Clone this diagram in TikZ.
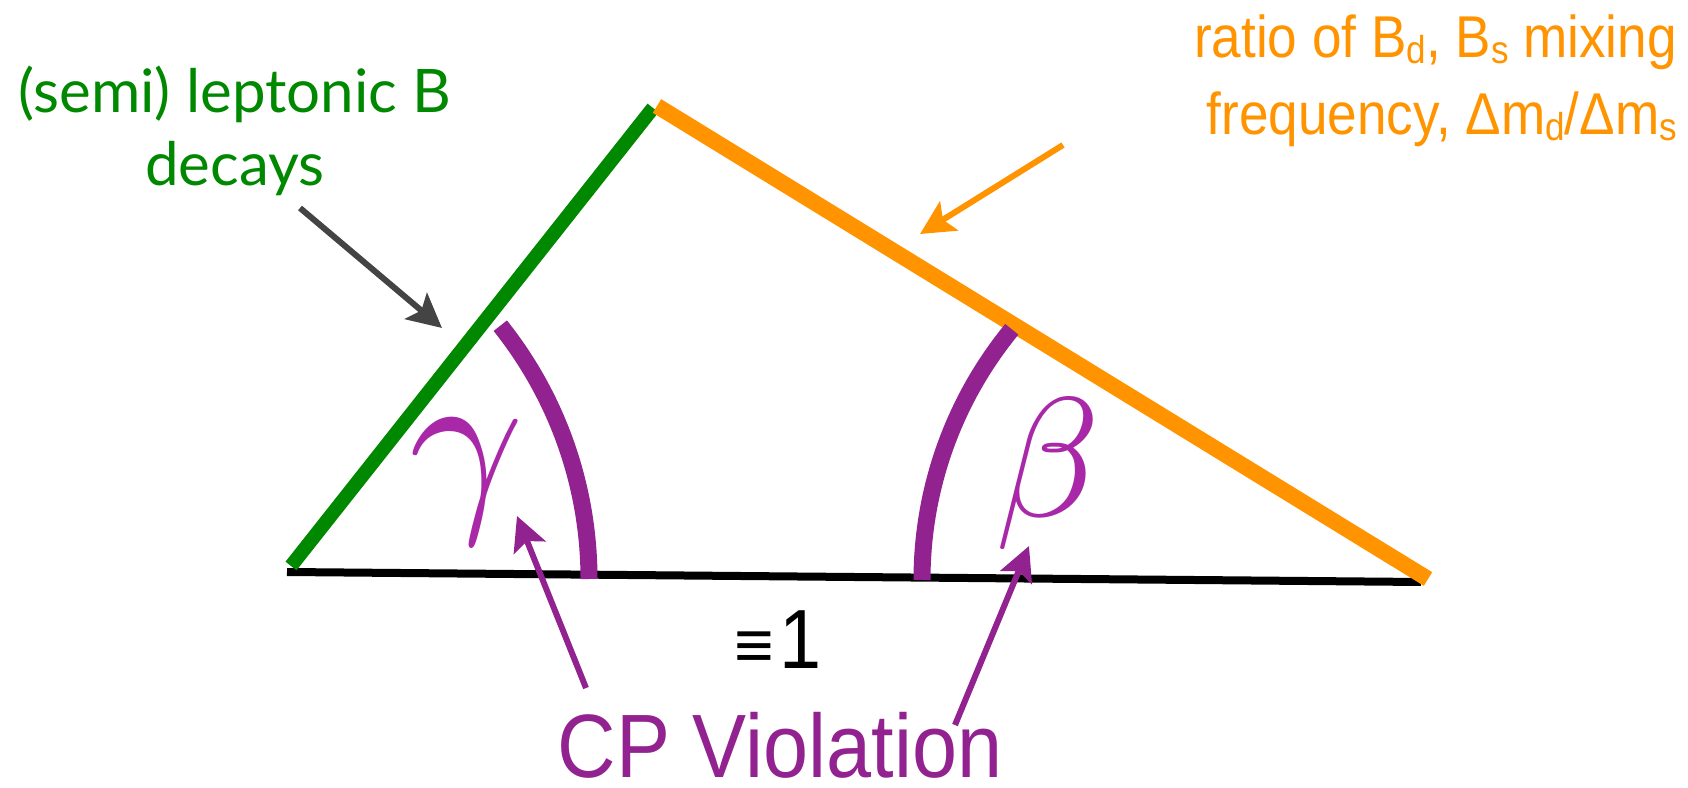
\documentclass[tikz,border=0pt]{standalone}
\usepackage{fontspec}
\usepackage{amsmath}
\setmainfont{Liberation Sans}
\newfontfamily\gillfont{Lato}
\newfontfamily\thinfont[FakeStretch=0.9]{Liberation Sans}
\usetikzlibrary{arrows.meta}
\definecolor{ckmgreen}{RGB}{0,136,0}
\definecolor{ckmorange}{RGB}{255,148,0}
\definecolor{ckmpurple}{RGB}{146,34,143}
\definecolor{ckmviolet}{RGB}{168,40,168}
\definecolor{ckmgray}{RGB}{68,68,68}
\newcommand\lsub[1]{\raisebox{-0.1em}{\scalebox{0.66}{#1}}}

\begin{document}
\begin{tikzpicture}[x=1pt,y=1pt]
        \useasboundingbox (0,0) rectangle (1688,787);
        \tikzset{Pointer/.style={line width=6pt,-{Stealth[length=34pt,width=34pt,inset=7pt]}},
                 Angle/.style={line width=17pt, color=ckmpurple},
                 Greek/.style={inner sep=0pt, text=ckmviolet}}
        \coordinate (A) at (287,215);
        \coordinate (Aend) at (1421,205);
        \coordinate (Ag) at (291,221);
        \coordinate (C) at (653,679);
        \coordinate (Co) at (657,681);
        \coordinate (B) at (1428,208);
        \draw[line width=8pt] (A) -- (Aend);
        \draw[line width=14pt, color=ckmgreen] (Ag) -- (C);
        \draw[line width=16pt, color=ckmorange] (Co) -- (B);
        \coordinate (GammaFoot) at (589,208);
        \coordinate (BetaFoot) at (922,207);
        \draw[Angle] (GammaFoot) arc[start angle=0, end angle=38.6, radius=406];
        \draw[Angle] (BetaFoot) arc[start angle=180, end angle=140.6, radius=395];
        \node[Greek] (gamma) at (467,305) {\scalebox{20}{$\gamma$}};
        \node[Greek] (beta) at (1048,313) {\scalebox{17}{$\beta$}};
        \node[inner sep=0pt, anchor=base west] (unit) at (734,119)
            {{\fontsize{68}{68}\selectfont ≡}\hspace{6pt}{\thinfont\fontsize{84}{84}\selectfont 1}};
        \node[inner sep=0pt, anchor=base, text=ckmpurple, font=\thinfont\fontsize{90}{90}\selectfont] (CPV) at (780,10) {CP Violation};
        \node[inner sep=0pt, align=center, text=ckmgreen, font=\gillfont\fontsize{60}{73}\selectfont] (SL) at (235,656)
            {(semi) leptonic B\\decays};
        \node[inner sep=0pt, align=right, anchor=east, text=ckmorange, font=\thinfont\fontsize{59}{77}\selectfont] (Mix) at (1677,706)
            {ratio of B\lsub{d}, B\lsub{s} mixing\\frequency, Δm\lsub{d}/Δm\lsub{s}};
        \coordinate (SLtail) at (300,579);
        \coordinate (SLtip) at (442,459);
        \coordinate (Mixtail) at (1063,642);
        \coordinate (Mixtip) at (920,553);
        \coordinate (Gtail) at (586,99);
        \coordinate (Gtip) at (517,271);
        \coordinate (Btail) at (955,62);
        \coordinate (Btip) at (1029,241);
        \draw[Pointer, color=ckmgray] (SLtail) -- (SLtip);
        \draw[Pointer, color=ckmorange] (Mixtail) -- (Mixtip);
        \draw[Pointer, color=ckmpurple] (Gtail) -- (Gtip);
        \draw[Pointer, color=ckmpurple] (Btail) -- (Btip);
\end{tikzpicture}
\end{document}
